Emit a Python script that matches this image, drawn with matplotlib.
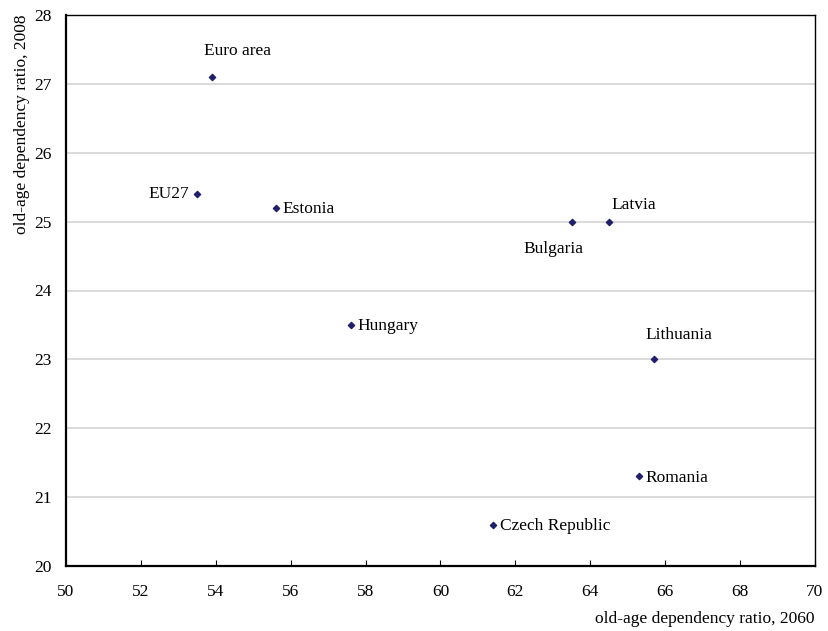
import matplotlib
matplotlib.use("Agg")
import matplotlib.pyplot as plt

plt.rcParams['font.family'] = ['Liberation Serif', 'DejaVu Serif']

# data
countries = ["Euro area", "EU27", "Estonia", "Hungary", "Bulgaria", "Latvia",
             "Lithuania", "Romania", "Czech Republic"]
ratio_2060 = [53.9, 53.5, 55.6, 57.6, 63.5, 64.5, 65.7, 65.3, 61.4]
ratio_2008 = [27.1, 25.4, 25.2, 23.5, 25.0, 25.0, 23.0, 21.3, 20.6]

# label offsets (points) and alignment per country
label_pos = {
    "Euro area": ((-6, 13), "left", "bottom"),
    "EU27": ((-6, 0), "right", "center"),
    "Estonia": ((5, -1), "left", "center"),
    "Hungary": ((5, -1), "left", "center"),
    "Bulgaria": ((-13, -14), "center", "top"),
    "Latvia": ((2, 6), "left", "bottom"),
    "Lithuania": ((-6, 12), "left", "bottom"),
    "Romania": ((5, -1), "left", "center"),
    "Czech Republic": ((5, -1), "left", "center"),
}

fs = 12.5

fig = plt.figure(figsize=(8.29, 6.31), dpi=100)
ax = fig.add_axes([66/829, 1-566/631, (815-66)/829, (566-15)/631])

ax.scatter(ratio_2060, ratio_2008, marker="D", s=10, color="#1f1f6b", zorder=3)

for name, x, y in zip(countries, ratio_2060, ratio_2008):
    off, ha, va = label_pos[name]
    ax.annotate(name, (x, y), xytext=off, textcoords="offset points",
                ha=ha, va=va, fontsize=fs)

ax.set_xlim(50, 70)
ax.set_ylim(20, 28)
ax.set_xticks(range(50, 71, 2))
ax.set_yticks(range(20, 29, 1))
ax.yaxis.grid(True, color="#d4d4d4", lw=1.2)
ax.set_axisbelow(True)

ax.tick_params(axis="x", direction="in", length=4, labelsize=fs, pad=13)
ax.tick_params(axis="y", length=0, labelsize=fs, pad=10)
for s in ax.spines.values():
    s.set_linewidth(1)
ax.spines["left"].set_linewidth(1.6)
ax.spines["bottom"].set_linewidth(1.6)

ax.set_xlabel("old-age dependency ratio, 2060", fontsize=fs, loc="right", labelpad=8)
ax.set_ylabel("old-age dependency ratio, 2008", fontsize=fs, loc="top", labelpad=3)

plt.savefig("out.png", dpi=100)
